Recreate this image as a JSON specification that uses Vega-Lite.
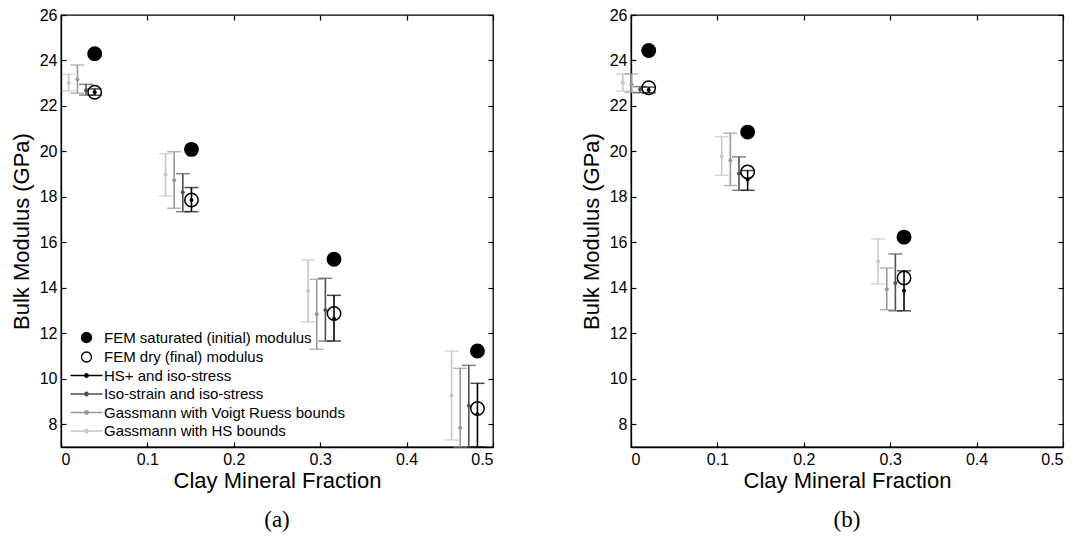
{
  "$schema": "https://vega.github.io/schema/vega-lite/v6.json",
  "background": "white",
  "padding": {"left": 9, "top": 6, "right": 5, "bottom": 5},
  "spacing": 84,
  "config": {
    "view": {"stroke": "black", "strokeWidth": 1.3},
    "axis": {"domainColor": "black", "tickColor": "black", "labelColor": "black", "titleColor": "black", "labelFont": "Liberation Sans", "titleFont": "Liberation Sans", "labelFontSize": 16, "titleFontSize": 22, "titleFontWeight": "normal", "grid": false, "tickSize": -5, "labelPadding": 9, "zindex": 1, "tickWidth": 1.2, "domainWidth": 1.3},
    "title": {"font": "Liberation Serif", "fontSize": 23, "fontWeight": "normal", "color": "black", "orient": "bottom", "offset": 18}
  },
  "datasets": {
    "bars": [
      {"p": "a", "s": "Gassmann with HS bounds", "x": 0.009, "lo": 22.66, "mid": 23.02, "hi": 23.39},
      {"p": "a", "s": "Gassmann with Voigt Ruess bounds", "x": 0.019, "lo": 22.56, "mid": 23.17, "hi": 23.8},
      {"p": "a", "s": "Iso-strain and iso-stress", "x": 0.029, "lo": 22.48, "mid": 22.69, "hi": 22.95},
      {"p": "a", "s": "HS+ and iso-stress", "x": 0.039, "lo": 22.47, "mid": 22.6, "hi": 22.75},
      {"p": "a", "s": "Gassmann with HS bounds", "x": 0.121, "lo": 18.04, "mid": 19.0, "hi": 19.9},
      {"p": "a", "s": "Gassmann with Voigt Ruess bounds", "x": 0.131, "lo": 17.5, "mid": 18.73, "hi": 19.99},
      {"p": "a", "s": "Iso-strain and iso-stress", "x": 0.141, "lo": 17.35, "mid": 18.19, "hi": 19.02},
      {"p": "a", "s": "HS+ and iso-stress", "x": 0.151, "lo": 17.35, "mid": 17.86, "hi": 18.41},
      {"p": "a", "s": "Gassmann with HS bounds", "x": 0.286, "lo": 12.51, "mid": 13.86, "hi": 15.23},
      {"p": "a", "s": "Gassmann with Voigt Ruess bounds", "x": 0.296, "lo": 11.3, "mid": 12.84, "hi": 14.38},
      {"p": "a", "s": "Iso-strain and iso-stress", "x": 0.306, "lo": 11.66, "mid": 13.03, "hi": 14.42},
      {"p": "a", "s": "HS+ and iso-stress", "x": 0.316, "lo": 11.66, "mid": 12.64, "hi": 13.67},
      {"p": "a", "s": "Gassmann with HS bounds", "x": 0.452, "lo": 7.31, "mid": 9.28, "hi": 11.22},
      {"p": "a", "s": "Gassmann with Voigt Ruess bounds", "x": 0.462, "lo": 7.0, "mid": 7.85, "hi": 10.46},
      {"p": "a", "s": "Iso-strain and iso-stress", "x": 0.472, "lo": 7.0, "mid": 8.81, "hi": 10.59},
      {"p": "a", "s": "HS+ and iso-stress", "x": 0.482, "lo": 7.0, "mid": 8.44, "hi": 9.8},
      {"p": "b", "s": "Gassmann with HS bounds", "x": -0.0095, "lo": 22.65, "mid": 23.02, "hi": 23.4},
      {"p": "b", "s": "Gassmann with Voigt Ruess bounds", "x": 0.0005, "lo": 22.6, "mid": 22.95, "hi": 23.41},
      {"p": "b", "s": "Iso-strain and iso-stress", "x": 0.0105, "lo": 22.58, "mid": 22.72, "hi": 22.85},
      {"p": "b", "s": "HS+ and iso-stress", "x": 0.0205, "lo": 22.58, "mid": 22.7, "hi": 22.83},
      {"p": "b", "s": "Gassmann with HS bounds", "x": 0.105, "lo": 18.95, "mid": 19.79, "hi": 20.65},
      {"p": "b", "s": "Gassmann with Voigt Ruess bounds", "x": 0.115, "lo": 18.5, "mid": 19.61, "hi": 20.8},
      {"p": "b", "s": "Iso-strain and iso-stress", "x": 0.125, "lo": 18.29, "mid": 19.03, "hi": 19.76},
      {"p": "b", "s": "HS+ and iso-stress", "x": 0.135, "lo": 18.29, "mid": 18.76, "hi": 19.16},
      {"p": "b", "s": "Gassmann with HS bounds", "x": 0.286, "lo": 14.18, "mid": 15.16, "hi": 16.15},
      {"p": "b", "s": "Gassmann with Voigt Ruess bounds", "x": 0.296, "lo": 13.04, "mid": 13.94, "hi": 14.87},
      {"p": "b", "s": "Iso-strain and iso-stress", "x": 0.306, "lo": 12.99, "mid": 14.21, "hi": 15.49},
      {"p": "b", "s": "HS+ and iso-stress", "x": 0.316, "lo": 12.99, "mid": 13.87, "hi": 14.75}
    ],
    "fem": [
      {"p": "a", "s": "FEM saturated (initial) modulus", "x": 0.039, "mid": 24.3},
      {"p": "a", "s": "FEM dry (final) modulus", "x": 0.039, "mid": 22.6},
      {"p": "a", "s": "FEM saturated (initial) modulus", "x": 0.151, "mid": 20.09},
      {"p": "a", "s": "FEM dry (final) modulus", "x": 0.151, "mid": 17.86},
      {"p": "a", "s": "FEM saturated (initial) modulus", "x": 0.316, "mid": 15.26},
      {"p": "a", "s": "FEM dry (final) modulus", "x": 0.316, "mid": 12.87},
      {"p": "a", "s": "FEM saturated (initial) modulus", "x": 0.482, "mid": 11.22},
      {"p": "a", "s": "FEM dry (final) modulus", "x": 0.482, "mid": 8.69},
      {"p": "b", "s": "FEM saturated (initial) modulus", "x": 0.0205, "mid": 24.44},
      {"p": "b", "s": "FEM dry (final) modulus", "x": 0.0205, "mid": 22.8},
      {"p": "b", "s": "FEM saturated (initial) modulus", "x": 0.135, "mid": 20.85},
      {"p": "b", "s": "FEM dry (final) modulus", "x": 0.135, "mid": 19.1},
      {"p": "b", "s": "FEM saturated (initial) modulus", "x": 0.316, "mid": 16.23},
      {"p": "b", "s": "FEM dry (final) modulus", "x": 0.316, "mid": 14.43}
    ],
    "leg": [
      {"s": "FEM saturated (initial) modulus", "x": -1, "mid": 20},
      {"s": "FEM dry (final) modulus", "x": -1, "mid": 20},
      {"s": "HS+ and iso-stress", "x": -1, "mid": 20},
      {"s": "Iso-strain and iso-stress", "x": -1, "mid": 20},
      {"s": "Gassmann with Voigt Ruess bounds", "x": -1, "mid": 20},
      {"s": "Gassmann with HS bounds", "x": -1, "mid": 20}
    ]
  },
  "resolve": {
    "scale": {"x": "independent", "y": "independent", "stroke": "independent", "fill": "independent", "shape": "independent"},
    "legend": {"stroke": "independent", "fill": "independent", "shape": "independent"}
  },
  "hconcat": [
    {
      "width": 432, "height": 432,
      "title": {"text": "(a)"},
      "resolve": {"axis": {"x": "independent", "y": "independent"}},
      "layer": [
        {
          "data": {"name": "leg"},
          "mark": {"type": "point", "clip": true, "opacity": 1},
          "encoding": {
            "x": {"field": "x", "type": "quantitative", "scale": {"domain": [0, 0.5]}, "axis": null},
            "y": {"field": "mid", "type": "quantitative", "scale": {"domain": [7, 26]}, "axis": null},
            "shape": {"field": "s", "type": "nominal", "scale": {"domain": ["FEM saturated (initial) modulus", "FEM dry (final) modulus", "HS+ and iso-stress", "Iso-strain and iso-stress", "Gassmann with Voigt Ruess bounds", "Gassmann with HS bounds"], "range": ["M-1,0A1,1 0 1,0 1,0A1,1 0 1,0 -1,0Z", "M-1,0A1,1 0 1,0 1,0A1,1 0 1,0 -1,0Z", "M-3.2,0H3.2M-0.35,0A0.35,0.35 0 1,0 0.35,0A0.35,0.35 0 1,0 -0.35,0Z", "M-3.2,0H3.2M-0.35,0A0.35,0.35 0 1,0 0.35,0A0.35,0.35 0 1,0 -0.35,0Z", "M-3.2,0H3.2M-0.35,0A0.35,0.35 0 1,0 0.35,0A0.35,0.35 0 1,0 -0.35,0Z", "M-3.2,0H3.2M-0.35,0A0.35,0.35 0 1,0 0.35,0A0.35,0.35 0 1,0 -0.35,0Z"]},
              "legend": {"title": null, "orient": "bottom-left", "offset": 8, "padding": 0, "labelFont": "Liberation Sans", "labelFontSize": 15, "labelColor": "black", "labelLimit": 400, "symbolSize": 100, "symbolStrokeWidth": 1.3, "rowPadding": 2.5, "symbolOffset": 10, "labelOffset": 10}},
            "stroke": {"field": "s", "type": "nominal", "scale": {"domain": ["FEM saturated (initial) modulus", "FEM dry (final) modulus", "HS+ and iso-stress", "Iso-strain and iso-stress", "Gassmann with Voigt Ruess bounds", "Gassmann with HS bounds"], "range": ["black", "black", "black", "#505050", "#999999", "#c8c8c8"]},
              "legend": {"title": null, "orient": "bottom-left", "offset": 8, "padding": 0, "labelFont": "Liberation Sans", "labelFontSize": 15, "labelColor": "black", "labelLimit": 400, "symbolSize": 100, "symbolStrokeWidth": 1.3, "rowPadding": 2.5, "symbolOffset": 10, "labelOffset": 10}},
            "fill": {"field": "s", "type": "nominal", "scale": {"domain": ["FEM saturated (initial) modulus", "FEM dry (final) modulus", "HS+ and iso-stress", "Iso-strain and iso-stress", "Gassmann with Voigt Ruess bounds", "Gassmann with HS bounds"], "range": ["black", "transparent", "black", "#505050", "#999999", "#c8c8c8"]},
              "legend": {"title": null, "orient": "bottom-left", "offset": 8, "padding": 0, "labelFont": "Liberation Sans", "labelFontSize": 15, "labelColor": "black", "labelLimit": 400, "symbolSize": 100, "symbolStrokeWidth": 1.3, "rowPadding": 2.5, "symbolOffset": 10, "labelOffset": 10}}
          }
        },
        {
          "data": {"name": "bars"},
          "transform": [{"filter": "datum.p === 'a'"}],
          "mark": {"type": "rule", "strokeWidth": 1.6},
          "encoding": {
            "x": {"field": "x", "type": "quantitative", "scale": {"domain": [0, 0.5]}, "axis": {"values": [0, 0.1, 0.2, 0.3, 0.4, 0.5], "format": ".1~f", "title": "Clay Mineral Fraction", "titlePadding": 3}},
            "y": {"field": "lo", "type": "quantitative", "scale": {"domain": [7, 26]}, "axis": {"values": [8, 10, 12, 14, 16, 18, 20, 22, 24, 26], "title": "Bulk Modulus (GPa)", "titlePadding": 6}},
            "y2": {"field": "hi"},
            "stroke": {"field": "s", "type": "nominal"}
          }
        },
        {
          "data": {"name": "bars"},
          "transform": [{"filter": "datum.p === 'a'"}],
          "mark": {"type": "tick", "orient": "horizontal", "size": 14, "thickness": 1.5},
          "encoding": {
            "x": {"field": "x", "type": "quantitative", "scale": {"domain": [0, 0.5]}, "axis": null},
            "y": {"field": "lo", "type": "quantitative", "scale": {"domain": [7, 26]}, "axis": null},
            "fill": {"field": "s", "type": "nominal"}
          }
        },
        {
          "data": {"name": "bars"},
          "transform": [{"filter": "datum.p === 'a'"}],
          "mark": {"type": "tick", "orient": "horizontal", "size": 14, "thickness": 1.5},
          "encoding": {
            "x": {"field": "x", "type": "quantitative", "scale": {"domain": [0, 0.5]}, "axis": null},
            "y": {"field": "hi", "type": "quantitative", "scale": {"domain": [7, 26]}, "axis": null},
            "fill": {"field": "s", "type": "nominal"}
          }
        },
        {
          "data": {"name": "bars"},
          "transform": [{"filter": "datum.p === 'a'"}],
          "mark": {"type": "point", "shape": "circle", "filled": true, "size": 16, "opacity": 1},
          "encoding": {
            "x": {"field": "x", "type": "quantitative", "scale": {"domain": [0, 0.5]}, "axis": null},
            "y": {"field": "mid", "type": "quantitative", "scale": {"domain": [7, 26]}, "axis": null},
            "fill": {"field": "s", "type": "nominal"}
          }
        },
        {
          "data": {"name": "fem"},
          "transform": [{"filter": "datum.p === 'a'"}],
          "mark": {"type": "point", "shape": "circle", "size": 180, "stroke": "black", "strokeWidth": 1.5, "opacity": 1},
          "encoding": {
            "x": {"field": "x", "type": "quantitative", "scale": {"domain": [0, 0.5]}, "axis": {"orient": "top", "labels": false, "title": null, "domain": false, "values": [0, 0.1, 0.2, 0.3, 0.4, 0.5]}},
            "y": {"field": "mid", "type": "quantitative", "scale": {"domain": [7, 26]}, "axis": {"orient": "right", "labels": false, "title": null, "domain": false, "values": [8, 10, 12, 14, 16, 18, 20, 22, 24, 26]}},
            "fill": {"field": "s", "type": "nominal"}
          }
        }
      ]
    },
    {
      "width": 432, "height": 432,
      "title": {"text": "(b)"},
      "resolve": {"axis": {"x": "independent", "y": "independent"}},
      "layer": [
        {
          "data": {"name": "bars"},
          "transform": [{"filter": "datum.p === 'b'"}],
          "mark": {"type": "rule", "strokeWidth": 1.6},
          "encoding": {
            "x": {"field": "x", "type": "quantitative", "scale": {"domain": [0, 0.5]}, "axis": {"values": [0, 0.1, 0.2, 0.3, 0.4, 0.5], "format": ".1~f", "title": "Clay Mineral Fraction", "titlePadding": 3}},
            "y": {"field": "lo", "type": "quantitative", "scale": {"domain": [7, 26]}, "axis": {"values": [8, 10, 12, 14, 16, 18, 20, 22, 24, 26], "title": "Bulk Modulus (GPa)", "titlePadding": 6}},
            "y2": {"field": "hi"},
            "stroke": {"field": "s", "type": "nominal", "legend": null, "scale": {"domain": ["FEM saturated (initial) modulus", "FEM dry (final) modulus", "HS+ and iso-stress", "Iso-strain and iso-stress", "Gassmann with Voigt Ruess bounds", "Gassmann with HS bounds"], "range": ["black", "black", "black", "#505050", "#999999", "#c8c8c8"]}}
          }
        },
        {
          "data": {"name": "bars"},
          "transform": [{"filter": "datum.p === 'b'"}],
          "mark": {"type": "tick", "orient": "horizontal", "size": 14, "thickness": 1.5},
          "encoding": {
            "x": {"field": "x", "type": "quantitative", "scale": {"domain": [0, 0.5]}, "axis": null},
            "y": {"field": "lo", "type": "quantitative", "scale": {"domain": [7, 26]}, "axis": null},
            "fill": {"field": "s", "type": "nominal", "legend": null, "scale": {"domain": ["FEM saturated (initial) modulus", "FEM dry (final) modulus", "HS+ and iso-stress", "Iso-strain and iso-stress", "Gassmann with Voigt Ruess bounds", "Gassmann with HS bounds"], "range": ["black", "transparent", "black", "#505050", "#999999", "#c8c8c8"]}}
          }
        },
        {
          "data": {"name": "bars"},
          "transform": [{"filter": "datum.p === 'b'"}],
          "mark": {"type": "tick", "orient": "horizontal", "size": 14, "thickness": 1.5},
          "encoding": {
            "x": {"field": "x", "type": "quantitative", "scale": {"domain": [0, 0.5]}, "axis": null},
            "y": {"field": "hi", "type": "quantitative", "scale": {"domain": [7, 26]}, "axis": null},
            "fill": {"field": "s", "type": "nominal", "legend": null}
          }
        },
        {
          "data": {"name": "bars"},
          "transform": [{"filter": "datum.p === 'b'"}],
          "mark": {"type": "point", "shape": "circle", "filled": true, "size": 16, "opacity": 1},
          "encoding": {
            "x": {"field": "x", "type": "quantitative", "scale": {"domain": [0, 0.5]}, "axis": null},
            "y": {"field": "mid", "type": "quantitative", "scale": {"domain": [7, 26]}, "axis": null},
            "fill": {"field": "s", "type": "nominal", "legend": null}
          }
        },
        {
          "data": {"name": "fem"},
          "transform": [{"filter": "datum.p === 'b'"}],
          "mark": {"type": "point", "shape": "circle", "size": 180, "stroke": "black", "strokeWidth": 1.5, "opacity": 1},
          "encoding": {
            "x": {"field": "x", "type": "quantitative", "scale": {"domain": [0, 0.5]}, "axis": {"orient": "top", "labels": false, "title": null, "domain": false, "values": [0, 0.1, 0.2, 0.3, 0.4, 0.5]}},
            "y": {"field": "mid", "type": "quantitative", "scale": {"domain": [7, 26]}, "axis": {"orient": "right", "labels": false, "title": null, "domain": false, "values": [8, 10, 12, 14, 16, 18, 20, 22, 24, 26]}},
            "fill": {"field": "s", "type": "nominal", "legend": null}
          }
        }
      ]
    }
  ]
}
